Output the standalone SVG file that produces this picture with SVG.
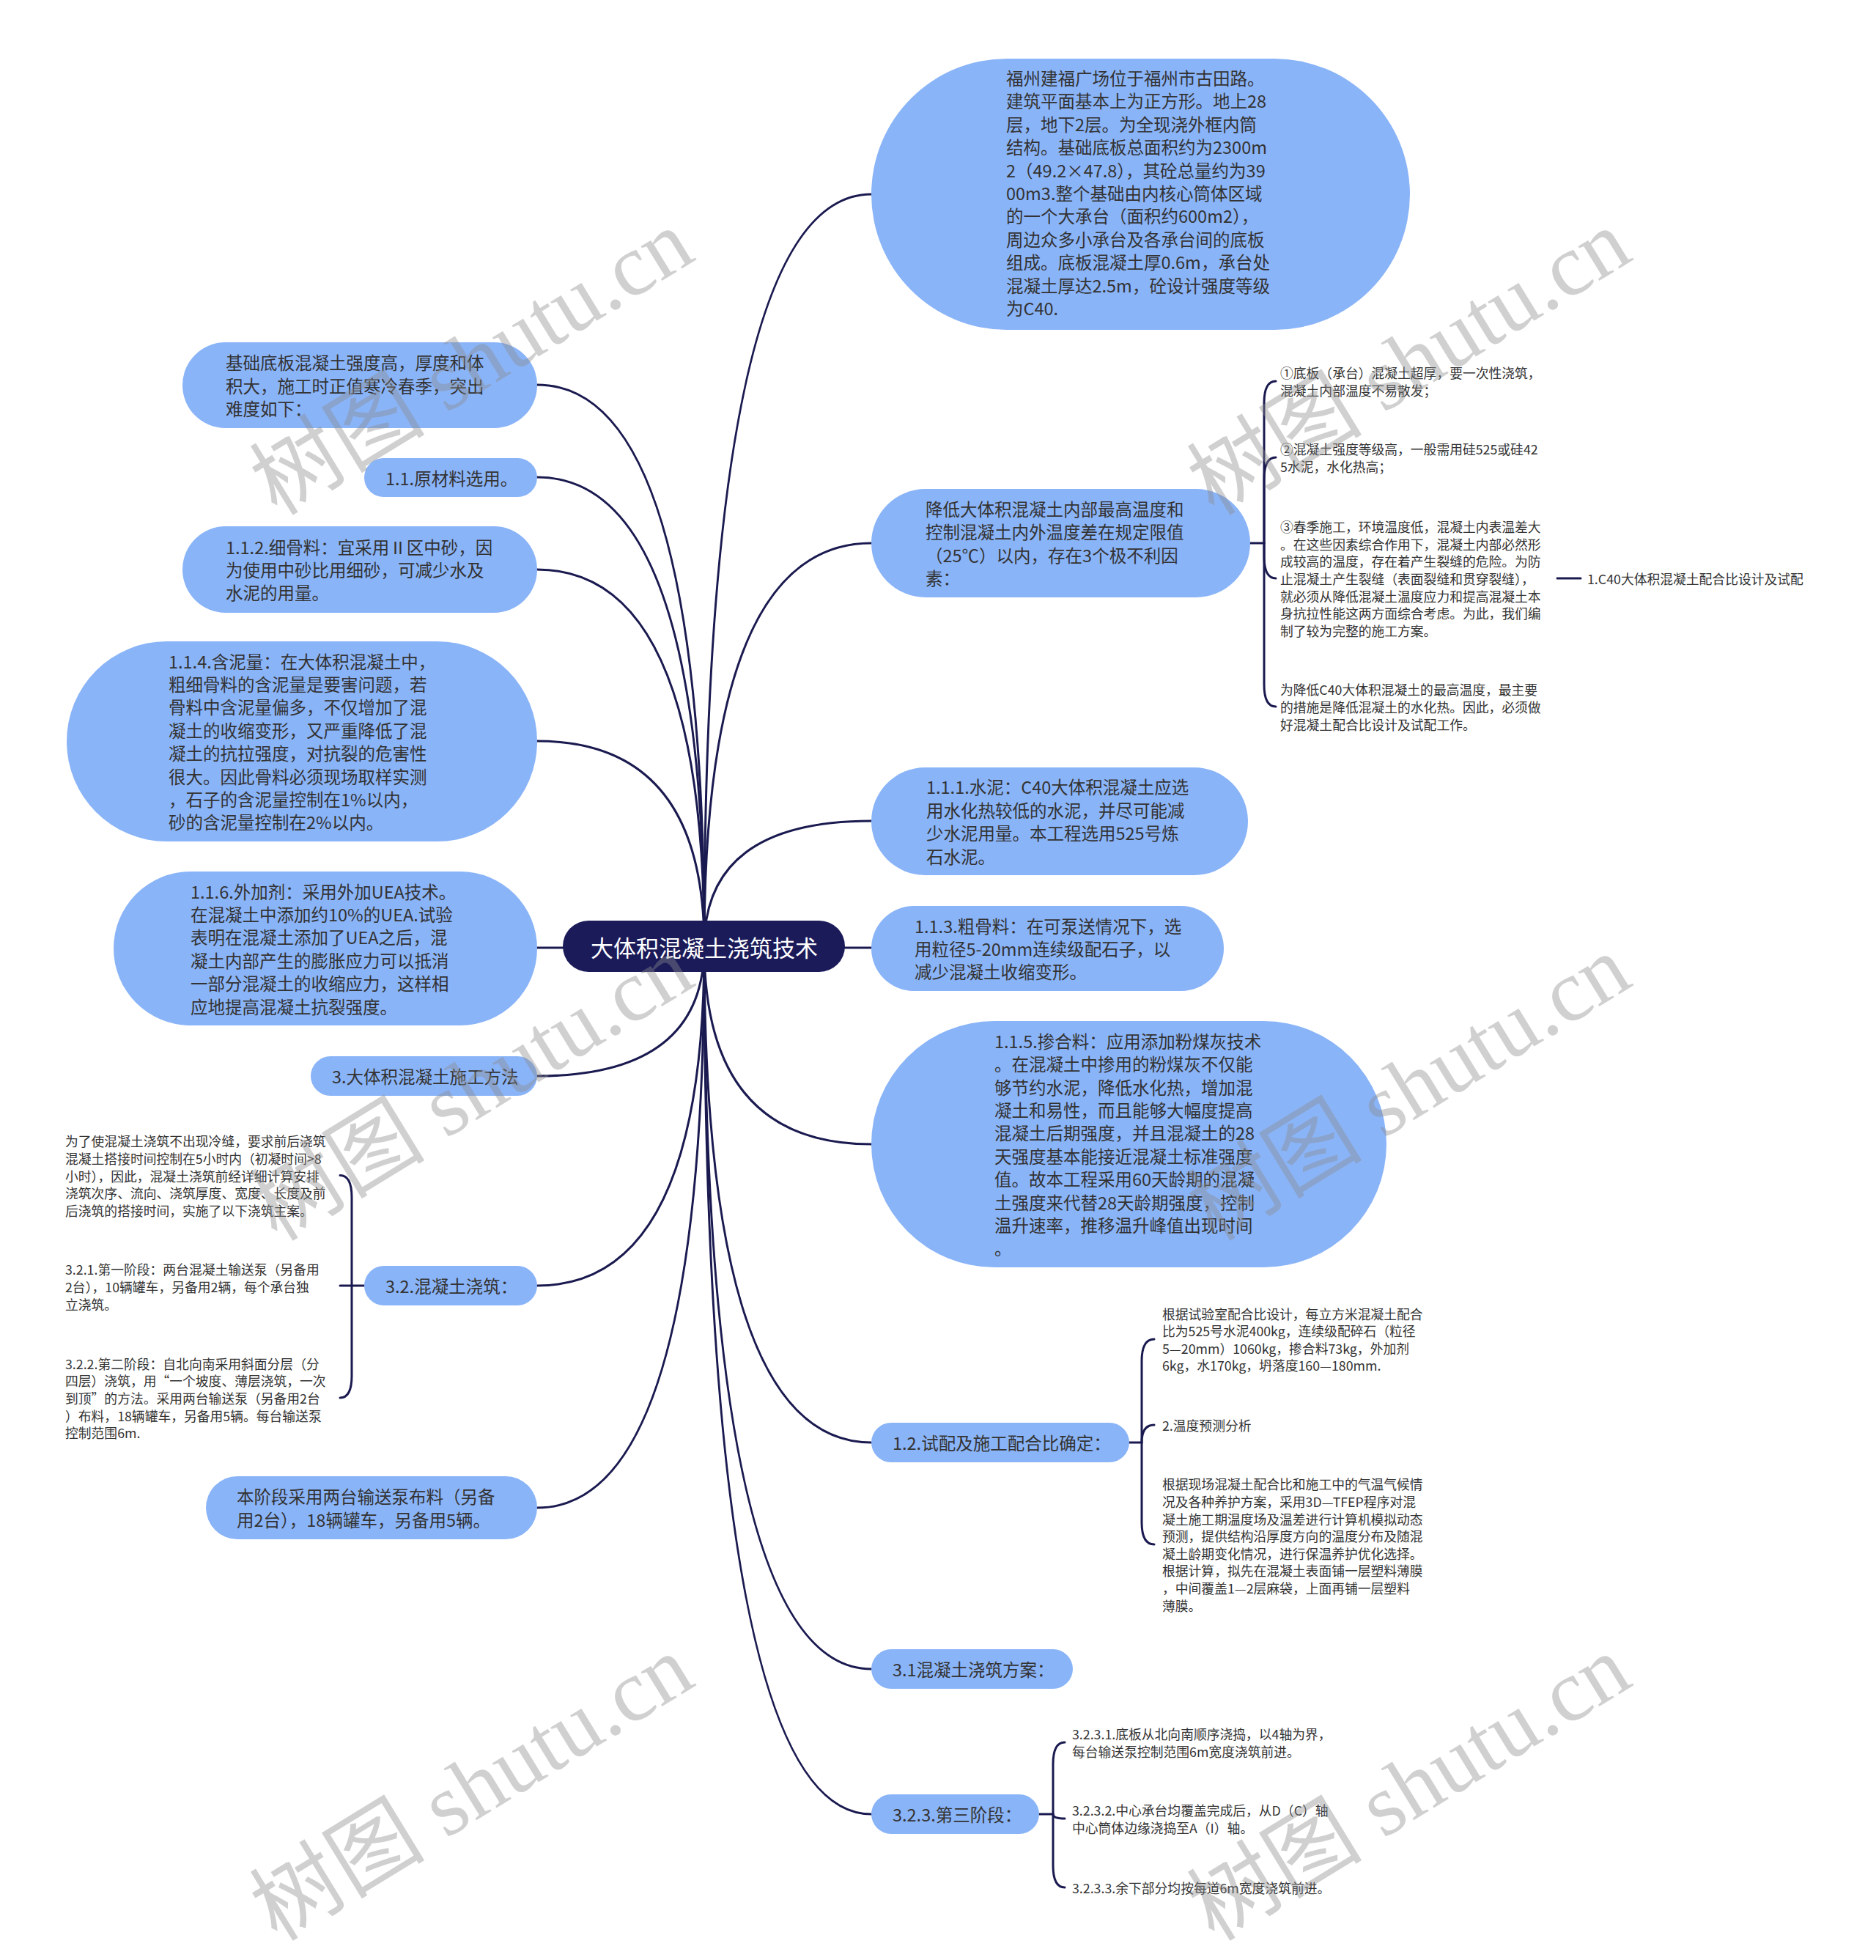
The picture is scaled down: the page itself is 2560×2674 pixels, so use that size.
<svg xmlns="http://www.w3.org/2000/svg" width="2560" height="2674" viewBox="0 0 2560 2674">
<style>
.bg{fill:#ffffff}
.n{fill:#8AB4F8}
.root{fill:#1C1B5A}
.t{font-family:"Noto Sans CJK SC","Noto Sans",sans-serif;font-size:23.5px;fill:#333333;dominant-baseline:central}
.s{font-family:"Noto Sans CJK SC","Noto Sans",sans-serif;font-size:17.8px;fill:#333333;dominant-baseline:central}
.rt{font-family:"Noto Sans CJK SC","Noto Sans",sans-serif;font-size:31px;fill:#ffffff;dominant-baseline:central;text-anchor:middle}
.e{fill:none;stroke:#1A1A50;stroke-width:3;stroke-linecap:round}
.wm{font-family:"Liberation Serif","Noto Sans CJK SC",serif;font-size:120px;fill:#8c8c8c;opacity:0.4}
</style>
<rect class="bg" x="0" y="0" width="2560" height="2674"/>

<g id="connectors">
  <path class="e" d="M961,1291 Q961,265 1189,265"/>
  <path class="e" d="M961,1291 Q961,741 1189,741"/>
  <path class="e" d="M961,1291 Q961,1120 1189,1120"/>
  <path class="e" d="M961,1293 L1189,1293"/>
  <path class="e" d="M961,1291 Q961,1561 1189,1561"/>
  <path class="e" d="M961,1291 Q961,1968 1189,1968"/>
  <path class="e" d="M961,1291 Q961,2277 1189,2277"/>
  <path class="e" d="M961,1291 Q961,2475 1189,2475"/>
  <path class="e" d="M961,1291 Q961,525 733,525"/>
  <path class="e" d="M961,1291 Q961,651 733,651"/>
  <path class="e" d="M961,1291 Q961,777 733,777"/>
  <path class="e" d="M961,1291 Q961,1011 733,1011"/>
  <path class="e" d="M961,1293 L733,1293"/>
  <path class="e" d="M961,1291 Q961,1468 733,1468"/>
  <path class="e" d="M961,1291 Q961,1754 733,1754"/>
  <path class="e" d="M961,1291 Q961,2057 733,2057"/>
  <path class="e" d="M1706,741 H1725"/>
  <path class="e" d="M1725,741 V550 Q1725,520 1741,520"/>
  <path class="e" d="M1725,741 V654 Q1725,624 1741,624"/>
  <path class="e" d="M1725,741 V759 Q1725,789 1741,789"/>
  <path class="e" d="M1725,741 V934 Q1725,964 1741,964"/>
  <path class="e" d="M2125,789 H2157"/>
  <path class="e" d="M1541,1968 H1558"/>
  <path class="e" d="M1558,1968 V1857 Q1558,1827 1575,1827"/>
  <path class="e" d="M1558,1968 Q1558,1944 1575,1944"/>
  <path class="e" d="M1558,1968 V2077 Q1558,2107 1575,2107"/>
  <path class="e" d="M1418,2475 H1437"/>
  <path class="e" d="M1437,2475 V2407 Q1437,2377 1453,2377"/>
  <path class="e" d="M1437,2475 Q1437,2481 1453,2481"/>
  <path class="e" d="M1437,2475 V2545 Q1437,2575 1453,2575"/>
  <path class="e" d="M497,1754 H480"/>
  <path class="e" d="M480,1754 V1633.5 Q480,1603.5 464,1603.5"/>
  <path class="e" d="M480,1754 H464"/>
  <path class="e" d="M480,1754 V1877 Q480,1907 464,1907"/>
</g>

<g id="root">
  <rect class="root" x="768" y="1256" width="385" height="70" rx="35"/>
  <text class="rt" x="961" y="1291">大体积混凝土浇筑技术</text>
</g>

<g id="r1">
  <rect class="n" x="1189" y="80" width="735" height="370" rx="185"/>
  <text class="t">
    <tspan x="1373" y="106">福州建福广场位于福州市古田路。</tspan>
    <tspan x="1373" y="137.4">建筑平面基本上为正方形。地上28</tspan>
    <tspan x="1373" y="168.8">层，地下2层。为全现浇外框内筒</tspan>
    <tspan x="1373" y="200.2">结构。基础底板总面积约为2300m</tspan>
    <tspan x="1373" y="231.6">2（49.2×47.8），其砼总量约为39</tspan>
    <tspan x="1373" y="263">00m3.整个基础由内核心筒体区域</tspan>
    <tspan x="1373" y="294.4">的一个大承台（面积约600m2），</tspan>
    <tspan x="1373" y="325.8">周边众多小承台及各承台间的底板</tspan>
    <tspan x="1373" y="357.2">组成。底板混凝土厚0.6m，承台处</tspan>
    <tspan x="1373" y="388.6">混凝土厚达2.5m，砼设计强度等级</tspan>
    <tspan x="1373" y="420">为C40.</tspan>
  </text>
</g>

<g id="r2">
  <rect class="n" x="1189" y="667" width="517" height="148" rx="74"/>
  <text class="t">
    <tspan x="1263" y="694">降低大体积混凝土内部最高温度和</tspan>
    <tspan x="1263" y="725.4">控制混凝土内外温度差在规定限值</tspan>
    <tspan x="1263" y="756.8">（25℃）以内，存在3个极不利因</tspan>
    <tspan x="1263" y="788.2">素：</tspan>
  </text>
</g>
<g id="r2c1">
  <text class="s"><tspan x="1747" y="508.2">①底板（承台）混凝土超厚，要一次性浇筑，</tspan><tspan x="1747" y="531.8">混凝土内部温度不易散发；</tspan></text>
</g>
<g id="r2c2">
  <text class="s"><tspan x="1747" y="612.2">②混凝土强度等级高，一般需用硅525或硅42</tspan><tspan x="1747" y="635.8">5水泥，水化热高；</tspan></text>
</g>
<g id="r2c3">
  <text class="s">
    <tspan x="1747" y="718.2">③春季施工，环境温度低，混凝土内表温差大</tspan>
    <tspan x="1747" y="741.8">。在这些因素综合作用下，混凝土内部必然形</tspan>
    <tspan x="1747" y="765.4">成较高的温度，存在着产生裂缝的危险。为防</tspan>
    <tspan x="1747" y="789">止混凝土产生裂缝（表面裂缝和贯穿裂缝），</tspan>
    <tspan x="1747" y="812.6">就必须从降低混凝土温度应力和提高混凝土本</tspan>
    <tspan x="1747" y="836.2">身抗拉性能这两方面综合考虑。为此，我们编</tspan>
    <tspan x="1747" y="859.8">制了较为完整的施工方案。</tspan>
  </text>
</g>
<g id="r2c3a">
  <text class="s" x="2166" y="789">1.C40大体积混凝土配合比设计及试配</text>
</g>
<g id="r2c4">
  <text class="s"><tspan x="1747" y="940.4">为降低C40大体积混凝土的最高温度，最主要</tspan><tspan x="1747" y="964">的措施是降低混凝土的水化热。因此，必须做</tspan><tspan x="1747" y="987.6">好混凝土配合比设计及试配工作。</tspan></text>
</g>

<g id="r3">
  <rect class="n" x="1189" y="1047" width="514" height="147" rx="73.5"/>
  <text class="t">
    <tspan x="1264" y="1073.4">1.1.1.水泥：C40大体积混凝土应选</tspan>
    <tspan x="1264" y="1104.8">用水化热较低的水泥，并尽可能减</tspan>
    <tspan x="1264" y="1136.2">少水泥用量。本工程选用525号炼</tspan>
    <tspan x="1264" y="1167.6">石水泥。</tspan>
  </text>
</g>

<g id="r4">
  <rect class="n" x="1189" y="1236" width="481" height="116" rx="58"/>
  <text class="t">
    <tspan x="1248" y="1262.6">1.1.3.粗骨料：在可泵送情况下，选</tspan>
    <tspan x="1248" y="1294">用粒径5-20mm连续级配石子，以</tspan>
    <tspan x="1248" y="1325.4">减少混凝土收缩变形。</tspan>
  </text>
</g>

<g id="r5">
  <rect class="n" x="1189" y="1393" width="703" height="336" rx="168"/>
  <text class="t">
    <tspan x="1357" y="1419.7">1.1.5.掺合料：应用添加粉煤灰技术</tspan>
    <tspan x="1357" y="1451.1">。在混凝土中掺用的粉煤灰不仅能</tspan>
    <tspan x="1357" y="1482.5">够节约水泥，降低水化热，增加混</tspan>
    <tspan x="1357" y="1513.9">凝土和易性，而且能够大幅度提高</tspan>
    <tspan x="1357" y="1545.3">混凝土后期强度，并且混凝土的28</tspan>
    <tspan x="1357" y="1576.7">天强度基本能接近混凝土标准强度</tspan>
    <tspan x="1357" y="1608.1">值。故本工程采用60天龄期的混凝</tspan>
    <tspan x="1357" y="1639.5">土强度来代替28天龄期强度，控制</tspan>
    <tspan x="1357" y="1670.9">温升速率，推移温升峰值出现时间</tspan>
    <tspan x="1357" y="1702.3">。</tspan>
  </text>
</g>

<g id="r6">
  <rect class="n" x="1189" y="1941" width="352" height="54" rx="27"/>
  <text class="t" x="1218" y="1968">1.2.试配及施工配合比确定：</text>
</g>
<g id="r6c1">
  <text class="s">
    <tspan x="1586" y="1791.6">根据试验室配合比设计，每立方米混凝土配合</tspan>
    <tspan x="1586" y="1815.2">比为525号水泥400kg，连续级配碎石（粒径</tspan>
    <tspan x="1586" y="1838.8">5—20mm）1060kg，掺合料73kg，外加剂</tspan>
    <tspan x="1586" y="1862.4">6kg，水170kg，坍落度160—180mm.</tspan>
  </text>
</g>
<g id="r6c2">
  <text class="s" x="1586" y="1944">2.温度预测分析</text>
</g>
<g id="r6c3">
  <text class="s">
    <tspan x="1586" y="2024.4">根据现场混凝土配合比和施工中的气温气候情</tspan>
    <tspan x="1586" y="2048">况及各种养护方案，采用3D—TFEP程序对混</tspan>
    <tspan x="1586" y="2071.6">凝土施工期温度场及温差进行计算机模拟动态</tspan>
    <tspan x="1586" y="2095.2">预测，提供结构沿厚度方向的温度分布及随混</tspan>
    <tspan x="1586" y="2118.8">凝土龄期变化情况，进行保温养护优化选择。</tspan>
    <tspan x="1586" y="2142.4">根据计算，拟先在混凝土表面铺一层塑料薄膜</tspan>
    <tspan x="1586" y="2166">，中间覆盖1—2层麻袋，上面再铺一层塑料</tspan>
    <tspan x="1586" y="2189.6">薄膜。</tspan>
  </text>
</g>

<g id="r7">
  <rect class="n" x="1189" y="2250" width="275" height="54" rx="27"/>
  <text class="t" x="1218" y="2277">3.1混凝土浇筑方案：</text>
</g>

<g id="r8">
  <rect class="n" x="1189" y="2448" width="229" height="54" rx="27"/>
  <text class="t" x="1218" y="2475">3.2.3.第三阶段：</text>
</g>
<g id="r8c1">
  <text class="s"><tspan x="1463" y="2365.2">3.2.3.1.底板从北向南顺序浇捣，以4轴为界，</tspan><tspan x="1463" y="2388.8">每台输送泵控制范围6m宽度浇筑前进。</tspan></text>
</g>
<g id="r8c2">
  <text class="s"><tspan x="1463" y="2469.2">3.2.3.2.中心承台均覆盖完成后，从D（C）轴</tspan><tspan x="1463" y="2492.8">中心筒体边缘浇捣至A（I）轴。</tspan></text>
</g>
<g id="r8c3">
  <text class="s" x="1463" y="2575">3.2.3.3.余下部分均按每道6m宽度浇筑前进。</text>
</g>

<g id="l1">
  <rect class="n" x="249" y="467" width="484" height="117" rx="58.5"/>
  <text class="t">
    <tspan x="308" y="494.1">基础底板混凝土强度高，厚度和体</tspan>
    <tspan x="308" y="525.5">积大，施工时正值寒冷春季，突出</tspan>
    <tspan x="308" y="556.9">难度如下：</tspan>
  </text>
</g>

<g id="l2">
  <rect class="n" x="497" y="625" width="236" height="53" rx="26.5"/>
  <text class="t" x="526" y="651.5">1.1.原材料选用。</text>
</g>

<g id="l3">
  <rect class="n" x="249" y="718" width="484" height="118" rx="59"/>
  <text class="t">
    <tspan x="308" y="745.6">1.1.2.细骨料：宜采用Ⅱ区中砂，因</tspan>
    <tspan x="308" y="777">为使用中砂比用细砂，可减少水及</tspan>
    <tspan x="308" y="808.4">水泥的用量。</tspan>
  </text>
</g>

<g id="l4">
  <rect class="n" x="91" y="875" width="642" height="273" rx="136.5"/>
  <text class="t">
    <tspan x="230" y="901.6">1.1.4.含泥量：在大体积混凝土中，</tspan>
    <tspan x="230" y="933">粗细骨料的含泥量是要害问题，若</tspan>
    <tspan x="230" y="964.4">骨料中含泥量偏多，不仅增加了混</tspan>
    <tspan x="230" y="995.8">凝土的收缩变形，又严重降低了混</tspan>
    <tspan x="230" y="1027.2">凝土的抗拉强度，对抗裂的危害性</tspan>
    <tspan x="230" y="1058.6">很大。因此骨料必须现场取样实测</tspan>
    <tspan x="230" y="1090">，石子的含泥量控制在1%以内，</tspan>
    <tspan x="230" y="1121.4">砂的含泥量控制在2%以内。</tspan>
  </text>
</g>

<g id="l5">
  <rect class="n" x="155" y="1189" width="578" height="210" rx="105"/>
  <text class="t">
    <tspan x="260" y="1215.5">1.1.6.外加剂：采用外加UEA技术。</tspan>
    <tspan x="260" y="1246.9">在混凝土中添加约10%的UEA.试验</tspan>
    <tspan x="260" y="1278.3">表明在混凝土添加了UEA之后，混</tspan>
    <tspan x="260" y="1309.7">凝土内部产生的膨胀应力可以抵消</tspan>
    <tspan x="260" y="1341.1">一部分混凝土的收缩应力，这样相</tspan>
    <tspan x="260" y="1372.5">应地提高混凝土抗裂强度。</tspan>
  </text>
</g>

<g id="l6">
  <rect class="n" x="424" y="1441" width="309" height="54" rx="27"/>
  <text class="t" x="453" y="1468">3.大体积混凝土施工方法</text>
</g>

<g id="l7">
  <rect class="n" x="497" y="1727" width="236" height="54" rx="27"/>
  <text class="t" x="526" y="1754">3.2.混凝土浇筑：</text>
</g>
<g id="l7c1">
  <text class="s">
    <tspan x="89" y="1556.3">为了使混凝土浇筑不出现冷缝，要求前后浇筑</tspan>
    <tspan x="89" y="1579.9">混凝土搭接时间控制在5小时内（初凝时间&gt;8</tspan>
    <tspan x="89" y="1603.5">小时），因此，混凝土浇筑前经详细计算安排</tspan>
    <tspan x="89" y="1627.1">浇筑次序、流向、浇筑厚度、宽度、长度及前</tspan>
    <tspan x="89" y="1650.7">后浇筑的搭接时间，实施了以下浇筑主案。</tspan>
  </text>
</g>
<g id="l7c2">
  <text class="s">
    <tspan x="89" y="1731.4">3.2.1.第一阶段：两台混凝土输送泵（另备用</tspan>
    <tspan x="89" y="1755">2台），10辆罐车，另备用2辆，每个承台独</tspan>
    <tspan x="89" y="1778.6">立浇筑。</tspan>
  </text>
</g>
<g id="l7c3">
  <text class="s">
    <tspan x="89" y="1859.8">3.2.2.第二阶段：自北向南采用斜面分层（分</tspan>
    <tspan x="89" y="1883.4">四层）浇筑，用“一个坡度、薄层浇筑，一次</tspan>
    <tspan x="89" y="1907">到顶”的方法。采用两台输送泵（另备用2台</tspan>
    <tspan x="89" y="1930.6">）布料，18辆罐车，另备用5辆。每台输送泵</tspan>
    <tspan x="89" y="1954.2">控制范围6m.</tspan>
  </text>
</g>

<g id="l8">
  <rect class="n" x="281" y="2014" width="452" height="86" rx="43"/>
  <text class="t">
    <tspan x="323" y="2041.3">本阶段采用两台输送泵布料（另备</tspan>
    <tspan x="323" y="2072.7">用2台），18辆罐车，另备用5辆。</tspan>
  </text>
</g>

<g id="watermarks">
  <text class="wm" transform="translate(378,705) rotate(-31.5)">树图 shutu.cn</text>
  <text class="wm" transform="translate(1657,705) rotate(-31.5)">树图 shutu.cn</text>
  <text class="wm" transform="translate(378,1695) rotate(-31.5)">树图 shutu.cn</text>
  <text class="wm" transform="translate(1657,1695) rotate(-31.5)">树图 shutu.cn</text>
  <text class="wm" transform="translate(378,2650) rotate(-31.5)">树图 shutu.cn</text>
  <text class="wm" transform="translate(1657,2650) rotate(-31.5)">树图 shutu.cn</text>
</g>
</svg>
